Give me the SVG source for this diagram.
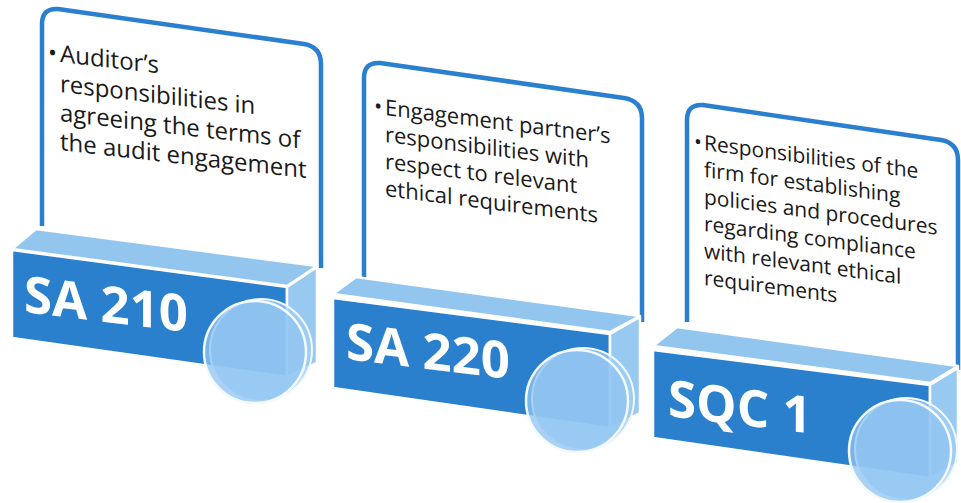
<svg xmlns="http://www.w3.org/2000/svg" width="961" height="503" viewBox="0 0 961 503">
<style>
.card{fill:#fff;stroke:#2b7fcf;stroke-width:4.5;stroke-linejoin:round}
.top{fill:#93c6ef;stroke:#fff;stroke-width:2.5;stroke-linejoin:round}
.front{fill:#2a80cd;stroke:#fff;stroke-width:2.5;stroke-linejoin:round}
.side{fill:#98c9f0;stroke:#fff;stroke-width:2.5;stroke-linejoin:round}
.discb{fill:#9fcdf3;fill-opacity:0.75;stroke:#f2f8fd;stroke-width:2}
.disc{fill:#91c5f2;fill-opacity:0.77;stroke:#f4f9fe;stroke-width:2.5}
.body{font-family:"Open Sans","Noto Sans",sans-serif;fill:#1a1a1a}
.title{font-family:"Open Sans","Noto Sans",sans-serif;font-weight:bold;fill:#fff}
</style>
<g id="node-sa210">
<path class="card" d="M42,226 V24 Q42,8 58,9 L304,44 Q321,47 321,64 V268"/>
<polygon class="top" points="12,249 36,229 317,266 287,286"/>
<polygon class="front" points="12,250 287,287 287,377 12,338"/>
<polygon class="side" points="287,287 317,267 317,363 287,377"/>
<text class="title" font-size="51" transform="translate(24,312) skewY(7)">SA 210</text>
<text class="body" font-size="24" transform="translate(60,62) skewY(6.5)"><tspan x="-12" y="0">•</tspan><tspan x="0" y="0">Auditor’s</tspan><tspan x="0" y="30">responsibilities in</tspan><tspan x="0" y="59">agreeing the terms of</tspan><tspan x="0" y="88">the audit engagement</tspan></text>
<circle class="discb" cx="261" cy="350" r="51"/>
<circle class="disc" cx="255" cy="352" r="51"/>
</g>
<g id="node-sa220">
<path class="card" d="M364,280 V78 Q364,62 380,63 L624,98 Q642,101 642,118 V322"/>
<polygon class="top" points="333,294 356,277 640,316 610,332"/>
<polygon class="front" points="333,298 610,334 610,428 333,388"/>
<polygon class="side" points="610,334 640,317 640,413 610,428"/>
<text class="title" font-size="51" transform="translate(346,359) skewY(7)">SA 220</text>
<text class="body" font-size="22" transform="translate(385,115) skewY(7.2)"><tspan x="-11" y="0">•</tspan><tspan x="0" y="0">Engagement partner’s</tspan><tspan x="0" y="27">responsibilities with</tspan><tspan x="0" y="54">respect to relevant</tspan><tspan x="0" y="81">ethical requirements</tspan></text>
<circle class="discb" cx="583" cy="399" r="51"/>
<circle class="disc" cx="577" cy="401" r="51"/>
</g>
<g id="node-sqc1">
<path class="card" d="M687,322 V120 Q687,104 703,105 L941,140 Q958,143 958,160 V370"/>
<polygon class="top" points="653,346 677,327 958,366 930,383"/>
<polygon class="front" points="653,350 930,385 930,478 653,438"/>
<polygon class="side" points="930,385 958,368 958,463 930,478"/>
<text class="title" font-size="51" transform="translate(668,416) skewY(7)">SQC 1</text>
<text class="body" font-size="21" transform="translate(704,150) skewY(7.5)"><tspan x="-10" y="0">•</tspan><tspan x="0" y="0">Responsibilities of the</tspan><tspan x="0" y="27">firm for establishing</tspan><tspan x="0" y="54">policies and procedures</tspan><tspan x="0" y="81">regarding compliance</tspan><tspan x="0" y="108">with relevant ethical</tspan><tspan x="0" y="135">requirements</tspan></text>
<circle class="discb" cx="906" cy="449" r="51"/>
<circle class="disc" cx="900" cy="451" r="51"/>
</g>
<g id="connectors"></g>
</svg>
